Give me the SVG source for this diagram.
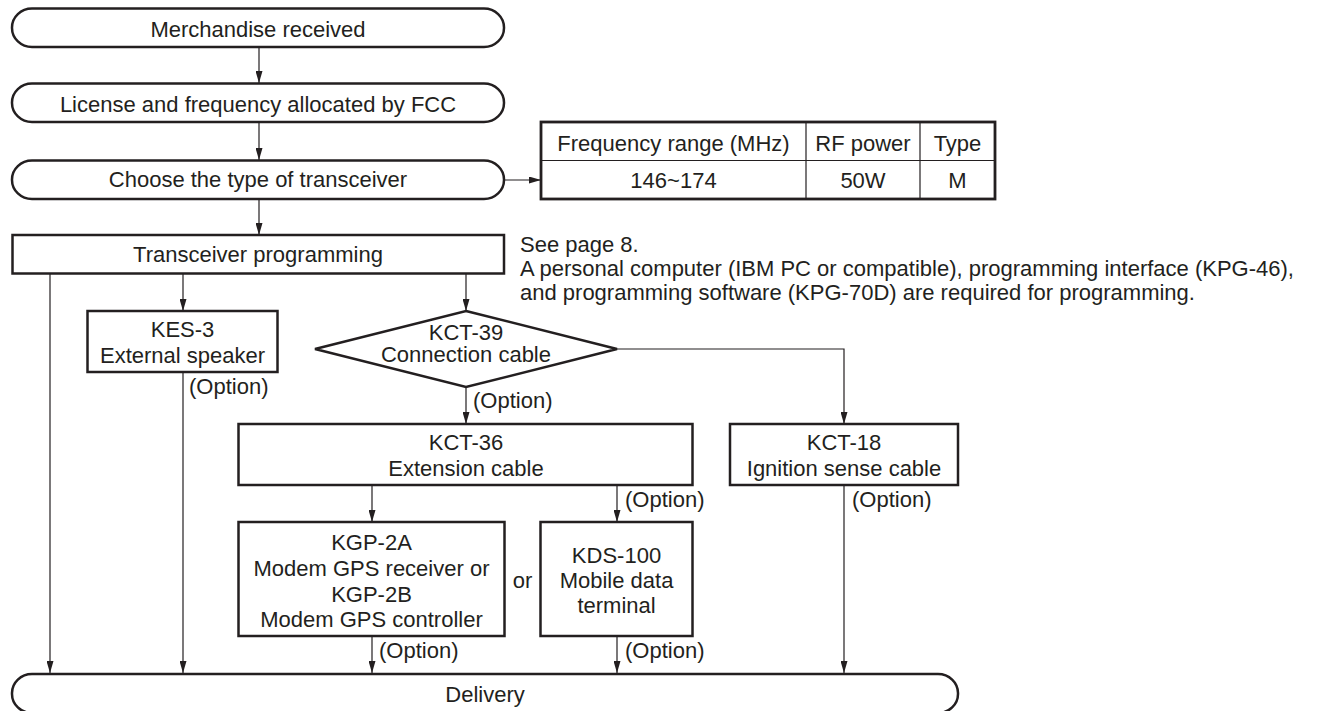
<svg xmlns="http://www.w3.org/2000/svg" width="1332" height="711" viewBox="0 0 1332 711">
<style>
text{font-family:"Liberation Sans",Arial,sans-serif;font-size:22px;fill:#231f20}
.c{text-anchor:middle}
.box{fill:#fff;stroke:#231f20;stroke-width:2.5}
.tb{fill:none;stroke:#231f20;stroke-width:1.2}
.ln{fill:none;stroke:#231f20;stroke-width:1.2}
</style>
<defs>
<marker id="ah" markerUnits="userSpaceOnUse" markerWidth="12" markerHeight="7" refX="12" refY="3.5" orient="auto">
<path d="M0,0 L12,3.5 L0,7 z" fill="#231f20"/>
</marker>
</defs>
<rect width="1332" height="711" fill="#fff"/>
<g id="connectors">
<line class="ln" x1="259" y1="47" x2="259" y2="83" marker-end="url(#ah)"/>
<line class="ln" x1="259" y1="122" x2="259" y2="160" marker-end="url(#ah)"/>
<line class="ln" x1="259" y1="199" x2="259" y2="235" marker-end="url(#ah)"/>
<line class="ln" x1="505" y1="180" x2="541" y2="180" marker-end="url(#ah)"/>
<line class="ln" x1="50" y1="274" x2="50" y2="673" marker-end="url(#ah)"/>
<line class="ln" x1="183" y1="274" x2="183" y2="311" marker-end="url(#ah)"/>
<line class="ln" x1="183" y1="372" x2="183" y2="673" marker-end="url(#ah)"/>
<line class="ln" x1="466" y1="274" x2="466" y2="311" marker-end="url(#ah)"/>
<line class="ln" x1="466" y1="387" x2="466" y2="424" marker-end="url(#ah)"/>
<path class="ln" d="M617,349 H844 V424" marker-end="url(#ah)"/>
<line class="ln" x1="372" y1="485" x2="372" y2="522" marker-end="url(#ah)"/>
<line class="ln" x1="617" y1="485" x2="617" y2="522" marker-end="url(#ah)"/>
<line class="ln" x1="372" y1="636" x2="372" y2="673" marker-end="url(#ah)"/>
<line class="ln" x1="617" y1="636" x2="617" y2="673" marker-end="url(#ah)"/>
<line class="ln" x1="844" y1="485" x2="844" y2="673" marker-end="url(#ah)"/>
<text x="189" y="394">(Option)</text>
<text x="473" y="408">(Option)</text>
<text x="625" y="507">(Option)</text>
<text x="852" y="507">(Option)</text>
<text x="379" y="658">(Option)</text>
<text x="625" y="658">(Option)</text>
</g>
<g id="merchandise">
<rect class="box" x="12" y="8.5" width="492" height="38.5" rx="20" ry="19"/>
<text class="c" x="258" y="36.5">Merchandise received</text>
</g>
<g id="license">
<rect class="box" x="12" y="83.5" width="492" height="38.5" rx="20" ry="19"/>
<text class="c" x="258" y="111.5">License and frequency allocated by FCC</text>
</g>
<g id="choose">
<rect class="box" x="12" y="160.5" width="492" height="38.5" rx="20" ry="19"/>
<text class="c" x="258" y="186.5">Choose the type of transceiver</text>
</g>
<g id="table">
<rect class="box" x="541" y="122" width="454" height="77" style="stroke-width:2.8"/>
<line class="tb" x1="541" y1="160.5" x2="995" y2="160.5"/>
<line class="tb" x1="806" y1="122" x2="806" y2="199"/>
<line class="tb" x1="920" y1="122" x2="920" y2="199"/>
<text class="c" x="673.5" y="150.5">Frequency range (MHz)</text>
<text class="c" x="863" y="150.5">RF power</text>
<text class="c" x="957.5" y="150.5">Type</text>
<text class="c" x="673.5" y="188">146~174</text>
<text class="c" x="863" y="188">50W</text>
<text class="c" x="957.5" y="188">M</text>
</g>
<g id="programming">
<rect class="box" x="12.5" y="235" width="491.5" height="38.5"/>
<text class="c" x="258" y="261.5">Transceiver programming</text>
</g>
<g id="note">
<text x="520" y="252">See page 8.</text>
<text x="520" y="276">A personal computer (IBM PC or compatible), programming interface (KPG-46),</text>
<text x="520" y="300">and programming software (KPG-70D) are required for programming.</text>
</g>
<g id="kes3">
<rect class="box" x="87.5" y="311" width="190" height="61"/>
<text class="c" x="182.5" y="337">KES-3</text>
<text class="c" x="182.5" y="363">External speaker</text>
</g>
<g id="kct39">
<polygon class="box" points="466,311 617,349 466,387 315,349"/>
<text class="c" x="466" y="339.5">KCT-39</text>
<text class="c" x="466" y="362">Connection cable</text>
</g>
<g id="kct36">
<rect class="box" x="238.5" y="424" width="454" height="61"/>
<text class="c" x="466" y="450">KCT-36</text>
<text class="c" x="466" y="476">Extension cable</text>
</g>
<g id="kct18">
<rect class="box" x="730" y="424" width="228" height="61"/>
<text class="c" x="844" y="450">KCT-18</text>
<text class="c" x="844" y="476">Ignition sense cable</text>
</g>
<g id="kgp2">
<rect class="box" x="238.5" y="522" width="266" height="114"/>
<text class="c" x="371.5" y="550">KGP-2A</text>
<text class="c" x="371.5" y="576">Modem GPS receiver or</text>
<text class="c" x="371.5" y="601.5">KGP-2B</text>
<text class="c" x="371.5" y="627">Modem GPS controller</text>
</g>
<text x="522.5" y="588" class="c">or</text>
<g id="kds100">
<rect class="box" x="540.5" y="522" width="152" height="114"/>
<text class="c" x="616.5" y="562.5">KDS-100</text>
<text class="c" x="616.5" y="588">Mobile data</text>
<text class="c" x="616.5" y="613">terminal</text>
</g>
<g id="delivery">
<rect class="box" x="12" y="674" width="946" height="39" rx="20" ry="19"/>
<text class="c" x="485" y="701.5">Delivery</text>
</g>
</svg>
